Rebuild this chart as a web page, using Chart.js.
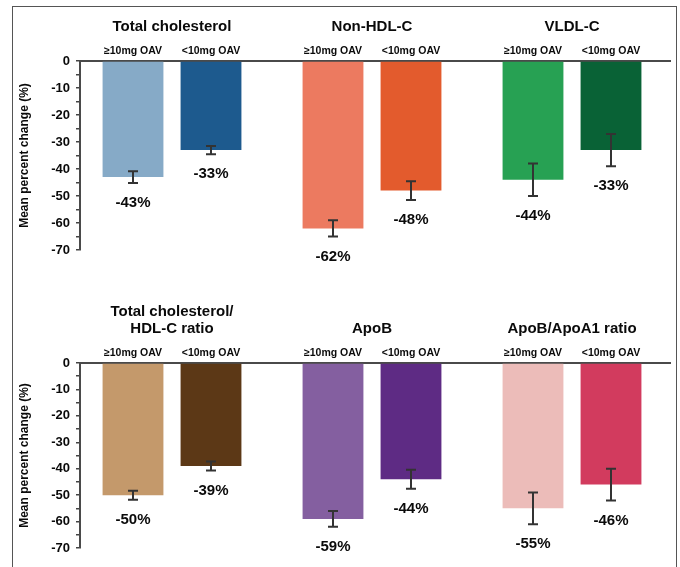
<!DOCTYPE html>
<html>
<head>
<meta charset="utf-8">
<script src="https://cdn.jsdelivr.net/npm/chart.js@4/dist/chart.umd.min.js"></script>
<style>
  html, body { margin: 0; padding: 0; background: #fff; }
  #wrap { position: relative; width: 680px; height: 567px; overflow: hidden; }
  #frame { position: absolute; left: 12px; top: 6px; width: 665px; height: 600px;
           border: 1.5px solid #555; box-sizing: border-box; }
  canvas { position: absolute; left: 0; }
</style>
</head>
<body>
<div id="wrap">
  <div id="frame"></div>
  <canvas id="panelTop" width="680" height="280" style="top:0"></canvas>
  <canvas id="panelBottom" width="680" height="287" style="top:280px"></canvas>
</div>
<script>
// Dose subgroups shown above each pair of bars
const doseLabels = ['≥10mg OAV', '<10mg OAV'];
const axisTitle = 'Mean percent change (%)';
const yTicks = [0, -10, -20, -30, -40, -50, -60, -70];

// Upper panel
const topTitles = [['Total cholesterol'], ['Non-HDL-C'], ['VLDL-C']];
const topFirst = [-43, -62, -44];
const topSecond = [-33, -48, -33];
const topFirstErr = [2.2, 3, 6];
const topSecondErr = [1.5, 3.5, 6];
const topFirstColors = ['#86aac7', '#ec7a60', '#27a153'];
const topSecondColors = ['#1d5a8e', '#e35b2d', '#096236'];

// Lower panel
const bottomTitles = [['Total cholesterol/', 'HDL-C ratio'], ['ApoB'], ['ApoB/ApoA1 ratio']];
const bottomFirst = [-50, -59, -55];
const bottomSecond = [-39, -44, -46];
const bottomFirstErr = [1.7, 3, 6];
const bottomSecondErr = [1.7, 3.6, 6];
const bottomFirstColors = ['#c4996b', '#845fa0', '#ecbcb9'];
const bottomSecondColors = ['#5c3816', '#5e2b84', '#d23b5e'];

const FONT = '"Liberation Sans", Arial, sans-serif';
const INK = '#0a0a0a';

const annotate = {
  id: 'annotate',
  afterDraw(chart) {
    const { ctx, chartArea, scales } = chart;
    const y = scales.y;
    const opts = chart.options.plugins.annotate;
    ctx.save();

    // error bars and value labels
    chart.data.datasets.forEach((ds, di) => {
      const meta = chart.getDatasetMeta(di);
      meta.data.forEach((bar, i) => {
        const v = ds.data[i].y;
        const e = ds.errors[i];
        const yLo = y.getPixelForValue(v - e);
        const yHi = y.getPixelForValue(v + e);
        ctx.strokeStyle = '#333';
        ctx.lineWidth = 2;
        ctx.beginPath();
        ctx.moveTo(bar.x, yHi); ctx.lineTo(bar.x, yLo);
        ctx.moveTo(bar.x - 5, yHi); ctx.lineTo(bar.x + 5, yHi);
        ctx.moveTo(bar.x - 5, yLo); ctx.lineTo(bar.x + 5, yLo);
        ctx.stroke();

        ctx.fillStyle = INK;
        ctx.font = 'bold 15px ' + FONT;
        ctx.textAlign = 'center';
        ctx.textBaseline = 'middle';
        ctx.fillText(v + '%', bar.x, yLo + 20);

        // dose label above the bar
        ctx.font = 'bold 10.5px ' + FONT;
        ctx.fillText(doseLabels[di], bar.x, chartArea.top - 10);
      });
    });

    // group titles
    const x = scales.x;
    ctx.font = 'bold 15px ' + FONT;
    ctx.textAlign = 'center';
    ctx.textBaseline = 'middle';
    opts.titles.forEach((lines, i) => {
      const cx = x.getPixelForValue(i);
      lines.forEach((line, li) => {
        const off = (lines.length - 1 - li) * 17;
        ctx.fillText(line, cx, chartArea.top - 34 - off);
      });
    });

    // vertical axis title
    ctx.translate(chartArea.left - 55, (chartArea.top + chartArea.bottom) / 2);
    ctx.rotate(-Math.PI / 2);
    ctx.font = 'bold 12px ' + FONT;
    ctx.fillText(axisTitle, 0, 0);
    ctx.restore();
  }
};

function makePanel(id, titles, first, second, firstErr, secondErr, firstColors, secondColors, padTop, padBottom) {
  const toPoints = vals => vals.map((v, i) => ({ x: i, y: v }));
  return new Chart(document.getElementById(id), {
    type: 'bar',
    data: {
      datasets: [
        { data: toPoints(first), errors: firstErr, backgroundColor: firstColors, borderWidth: 0 },
        { data: toPoints(second), errors: secondErr, backgroundColor: secondColors, borderWidth: 0 }
      ]
    },
    options: {
      responsive: false,
      animation: false,
      devicePixelRatio: 1,
      categoryPercentage: 0.78,
      barPercentage: 0.78,
      layout: { padding: { top: padTop, bottom: padBottom, left: 40, right: 10 } },
      plugins: {
        legend: { display: false },
        tooltip: { enabled: false },
        annotate: { titles }
      },
      scales: {
        x: {
          type: 'linear',
          position: 'top',
          min: -0.46,
          max: 2.49,
          offset: false,
          afterBuildTicks: s => { s.ticks = titles.map((_, i) => ({ value: i })); },
          afterFit: s => { s.height = 0; },
          ticks: { display: false },
          grid: { display: false, drawTicks: false },
          border: { display: true, color: '#4a4a4a', width: 2 }
        },
        y: {
          min: yTicks[yTicks.length - 1],
          max: yTicks[0],
          afterFit: s => { s.width = 40; },
          ticks: {
            stepSize: 5,
            autoSkip: false,
            padding: 6,
            color: INK,
            font: { family: FONT, weight: 'bold', size: 13 },
            callback: v => (yTicks.includes(v) ? String(v) : '')
          },
          grid: { drawOnChartArea: false, drawTicks: true, tickLength: 4, color: '#444', lineWidth: 1.5 },
          border: { display: true, color: '#4a4a4a', width: 2 }
        }
      }
    },
    plugins: [annotate]
  });
}

makePanel('panelTop', topTitles, topFirst, topSecond, topFirstErr, topSecondErr,
  topFirstColors, topSecondColors, 61, 30);
makePanel('panelBottom', bottomTitles, bottomFirst, bottomSecond, bottomFirstErr, bottomSecondErr,
  bottomFirstColors, bottomSecondColors, 83, 19);
</script>
</body>
</html>
